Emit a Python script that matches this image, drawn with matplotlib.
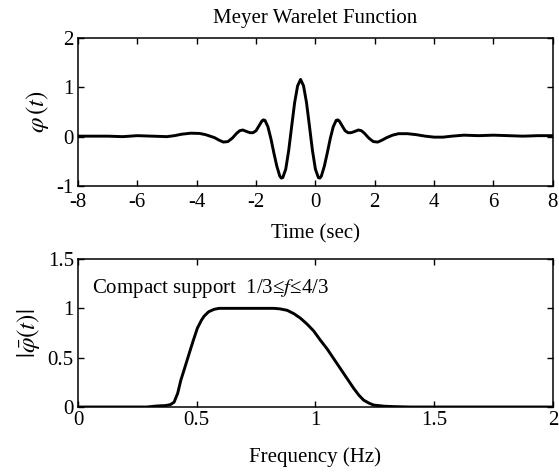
import matplotlib
matplotlib.use("Agg")
import matplotlib.pyplot as plt

plt.rcParams['font.family'] = ['Liberation Serif', 'DejaVu Serif']
plt.rcParams['mathtext.fontset'] = 'stix'
plt.rcParams['font.size'] = 15
plt.rcParams['axes.unicode_minus'] = False

# Top panel: Meyer wavelet in time
time_s = [-8.0, -7.5, -7.0, -6.5, -6.0, -5.5, -5.0, -4.75, -4.5, -4.2, -3.9, -3.7,
          -3.4, -3.25, -3.1, -2.95, -2.8, -2.65, -2.55, -2.45, -2.3, -2.2, -2.1,
          -2.0, -1.9, -1.8, -1.75, -1.7, -1.6, -1.5, -1.4, -1.3, -1.2, -1.15,
          -1.1, -1.0, -0.9, -0.8, -0.7, -0.6, -0.5, -0.4, -0.3, -0.2, -0.1, 0.0,
          0.1, 0.15, 0.2, 0.3, 0.4, 0.5, 0.6, 0.7, 0.75, 0.8, 0.9, 1.0, 1.1, 1.2,
          1.3, 1.45, 1.55, 1.65, 1.8, 1.95, 2.1, 2.25, 2.4, 2.6, 2.8, 3.1, 3.4,
          3.7, 4.0, 4.3, 4.6, 5.0, 5.5, 6.0, 6.5, 7.0, 7.5, 8.0]
psi_t = [0.01, 0.01, 0.01, 0.0, 0.02, 0.01, 0.0, 0.02, 0.05, 0.07, 0.065, 0.04,
         -0.02, -0.07, -0.11, -0.10, -0.03, 0.07, 0.12, 0.135, 0.10, 0.08, 0.08,
         0.12, 0.22, 0.32, 0.34, 0.33, 0.20, -0.04, -0.33, -0.60, -0.80, -0.84,
         -0.83, -0.66, -0.28, 0.21, 0.69, 1.03, 1.16, 1.03, 0.69, 0.21, -0.28, -0.66,
         -0.83, -0.84, -0.80, -0.60, -0.33, -0.04, 0.20, 0.33, 0.34, 0.32, 0.22, 0.12, 0.08, 0.08,
         0.10, 0.135, 0.12, 0.07, -0.03, -0.10, -0.11, -0.07, -0.02, 0.03, 0.06, 0.06, 0.04,
         0.01, -0.01, -0.01, 0.01, 0.03, 0.02, 0.03, 0.02, 0.01, 0.02, 0.02]

# Bottom panel: magnitude spectrum
freq_hz = [0.0, 0.29, 0.33, 0.37, 0.39, 0.405, 0.42, 0.433, 0.45, 0.468, 0.485,
           0.503, 0.52, 0.531, 0.55, 0.573, 0.594, 0.7, 0.825, 0.85, 0.881, 0.91,
           0.937, 0.965, 0.993, 1.02, 1.049, 1.077, 1.105, 1.133, 1.161, 1.183,
           1.203, 1.225, 1.245, 1.29, 1.33, 1.4, 2.0]
mag = [0.0, 0.0, 0.01, 0.015, 0.025, 0.05, 0.14, 0.27, 0.40, 0.54, 0.67,
       0.80, 0.88, 0.92, 0.965, 0.99, 1.0, 1.0, 1.0, 0.995, 0.98, 0.945,
       0.90, 0.84, 0.77, 0.68, 0.59, 0.49, 0.39, 0.29, 0.19, 0.12,
       0.07, 0.04, 0.02, 0.008, 0.004, 0.0, 0.0]

top_xticks = [-8, -6, -4, -2, 0, 2, 4, 6, 8]
top_yticks = [-1, 0, 1, 2]
bot_xticks = [0, 0.5, 1, 1.5, 2]
bot_xlabels = ['0', '0.5', '1', '1.5', '2']
bot_yticks = [0, 0.5, 1, 1.5]
bot_ylabels = ['0', '0.5', '1', '1.5']

fig = plt.figure(figsize=(5.59, 4.73), dpi=100)
ax1 = fig.add_axes([0.1395, 0.6068, 0.8495, 0.3129])
ax2 = fig.add_axes([0.1395, 0.1395, 0.8495, 0.3129])

for ax in (ax1, ax2):
    for sp in ax.spines.values():
        sp.set_linewidth(1.1)
    ax.tick_params(direction='in', length=4, width=1.0, top=True, right=True,
                   labelsize=15, pad=3)

ax1.plot(time_s, psi_t, color='black', linewidth=2.1)
ax1.set_xlim(-8, 8)
ax1.set_ylim(-1, 2)
ax1.set_xticks(top_xticks)
ax1.set_yticks(top_yticks)
ax1.tick_params(axis='x', pad=5)
ax1.set_title('Meyer Warelet Function', fontsize=15, pad=11)
ax1.set_xlabel('Time (sec)', fontsize=15, labelpad=9)
ax1.set_ylabel(r'$\varphi\,(t)$', fontsize=18, labelpad=4)

ax2.plot(freq_hz, mag, color='black', linewidth=2.1)
ax2.set_xlim(0, 2)
ax2.set_ylim(0, 1.5)
ax2.set_xticks(bot_xticks)
ax2.set_xticklabels(bot_xlabels)
ax2.set_yticks(bot_yticks)
ax2.set_yticklabels(bot_ylabels)
ax2.set_xlabel('Frequency (Hz)', fontsize=15, labelpad=12)
ax2.set_ylabel(r'$|\bar{\varphi}(t)|$', fontsize=18, labelpad=4)
ax2.text(0.03, 0.80, 'Compact support  1/3≤$f$≤4/3', transform=ax2.transAxes,
         fontsize=15, va='center', ha='left')

fig.savefig('out.png', dpi=100)
